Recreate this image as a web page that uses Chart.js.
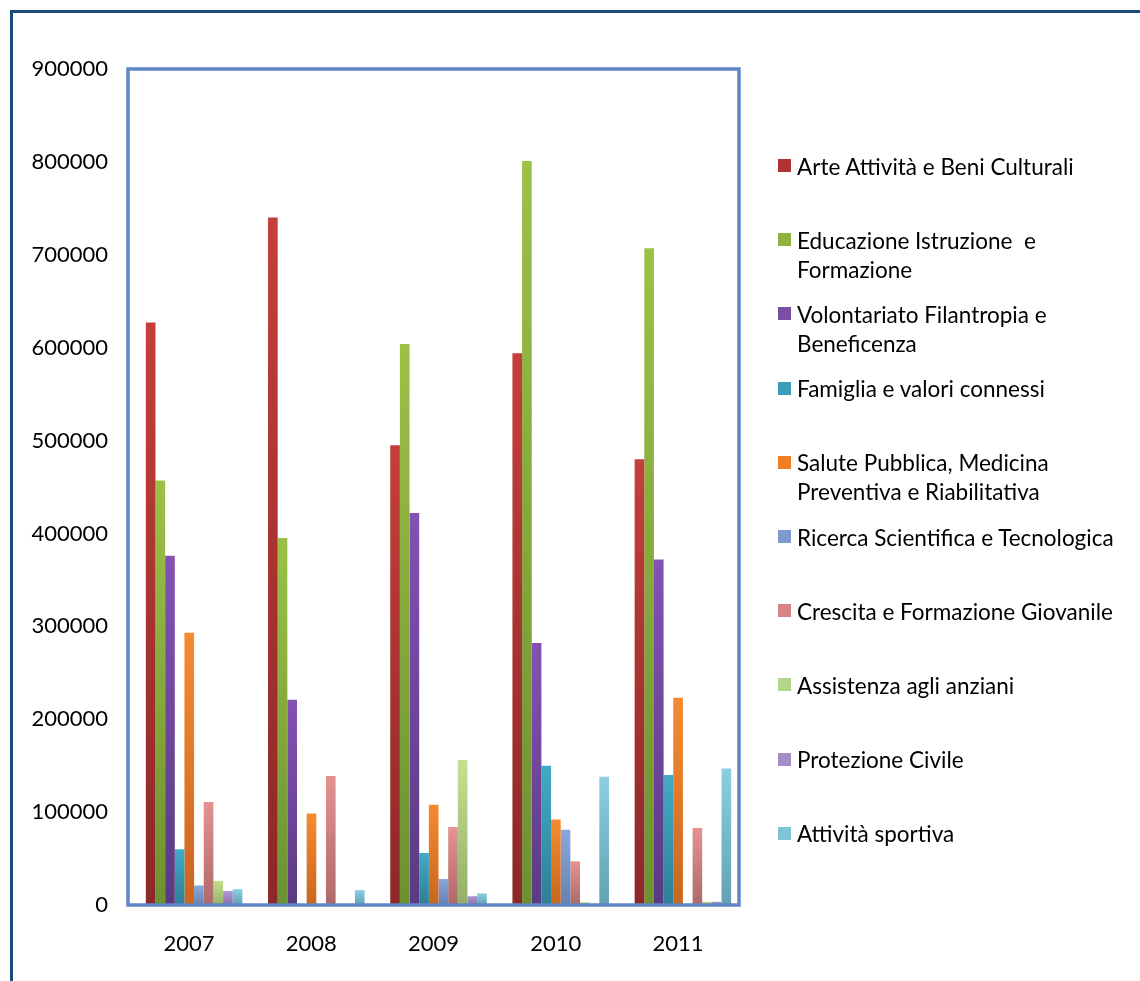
<!DOCTYPE html>
<html>
<head>
<meta charset="utf-8">
<script src="https://cdn.jsdelivr.net/npm/chart.js@4/dist/chart.umd.min.js"></script>
<style>
  html, body { margin: 0; padding: 0; background: #fff; overflow: hidden; }
  #wrap { position: relative; width: 1140px; height: 981px; }
  #frame { position: absolute; left: 10px; top: 10px; width: 1200px; height: 1100px; border: 3px solid #1b4b7a; }
  canvas { position: absolute; left: 0; top: 0; }
  .leg { position: absolute; left: 797px; font-family: Lato, sans-serif; font-size: 22.5px; line-height: 29px; color: #000; white-space: nowrap; }
  .sq { position: absolute; left: 778px; width: 13px; height: 13px; }
</style>
</head>
<body>
<div id="wrap">
  <div id="frame"></div>
  <canvas id="chart" width="1140" height="981"></canvas>
</div>
<script>
const years = ['2007', '2008', '2009', '2010', '2011'];

const arte = [627000, 740000, 495000, 594000, 480000];
const educazione = [457000, 395000, 604000, 801000, 707000];
const volontariato = [376000, 221000, 422000, 282000, 372000];
const famiglia = [60000, 0, 56000, 150000, 140000];
const salute = [293000, 98500, 108000, 92000, 223000];
const ricerca = [21000, 0, 28000, 81000, 0];
const crescita = [111000, 139000, 84000, 47000, 83000];
const anziani = [26000, 0, 156000, 3000, 3500];
const protezione = [15000, 0, 9500, 0, 3500];
const sportiva = [17000, 16000, 12500, 138000, 147000];

const seriesNames = [
  'Arte Attività e Beni Culturali',
  'Educazione Istruzione  e\nFormazione',
  'Volontariato Filantropia e\nBeneficenza',
  'Famiglia e valori connessi',
  'Salute Pubblica, Medicina\nPreventiva e Riabilitativa',
  'Ricerca Scientifica e Tecnologica',
  'Crescita e Formazione Giovanile',
  'Assistenza agli anziani',
  'Protezione Civile',
  'Attività sportiva'
];
const seriesValues = [arte, educazione, volontariato, famiglia, salute, ricerca, crescita, anziani, protezione, sportiva];

// top / bottom of each bar's gradient, plus legend swatch
const topColors = ['#c43f3a', '#9cc147', '#8352b3', '#43aac6', '#f68b30', '#8ba8de', '#e59292', '#c5e08e', '#b197d6', '#8bcee2'];
const bottomColors = ['#8c2828', '#6c9131', '#5a3a82', '#2d7f96', '#c9661f', '#6381b2', '#ad6a6a', '#93af68', '#8770a8', '#62a1b4'];
const swatchColors = ['#b03232', '#8db23f', '#7a4fa3', '#3a9eb8', '#ef7f22', '#7d9acf', '#d88484', '#b3d68a', '#a48cc4', '#7fc3d6'];

function barFill(i) {
  return function(ctx) {
    const chart = ctx.chart;
    const ys = chart.scales.y;
    if (ctx.type !== 'data' || !ys || !chart.chartArea) return topColors[i];
    const yTop = ys.getPixelForValue(ctx.raw);
    const yBot = ys.getPixelForValue(0);
    if (yBot - yTop < 1) return topColors[i];
    const g = chart.ctx.createLinearGradient(0, yTop, 0, yBot);
    g.addColorStop(0, topColors[i]);
    g.addColorStop(1, bottomColors[i]);
    return g;
  };
}

const datasets = seriesValues.map((vals, i) => ({
  label: seriesNames[i],
  data: vals,
  backgroundColor: barFill(i),
  borderWidth: 0,
  categoryPercentage: 0.79,
  barPercentage: 1.0
}));

// the groups in the original sit a few px right of the tick centre
const barNudge = {
  id: 'barNudge',
  beforeDatasetsDraw(chart) { chart.ctx.save(); chart.ctx.translate(5, 0); },
  afterDatasetsDraw(chart) { chart.ctx.restore(); }
};

// blue box round the plot area
const plotBorder = {
  id: 'plotBorder',
  afterDatasetsDraw(chart) {
    const { ctx, chartArea: a } = chart;
    ctx.save();
    ctx.strokeStyle = '#5f87c3';
    ctx.lineWidth = 3.5;
    ctx.strokeRect(a.left, a.top, a.right - a.left, a.bottom - a.top);
    ctx.restore();
  }
};

const tickFont = { family: 'Lato', size: 22 };

new Chart(document.getElementById('chart').getContext('2d'), {
  type: 'bar',
  data: { labels: years, datasets },
  options: {
    responsive: false,
    animation: false,
    layout: { padding: { left: 0, top: 69, right: 401, bottom: 0 } },
    plugins: {
      legend: { display: false },
      tooltip: { enabled: false }
    },
    scales: {
      x: {
        grid: { display: false, drawTicks: false },
        border: { display: false },
        ticks: { font: tickFont, color: '#000', padding: 26, maxRotation: 0 },
        afterFit: s => { s.height = 76; }
      },
      y: {
        min: 0,
        max: 900000,
        grid: { display: false, drawTicks: false },
        border: { display: false },
        ticks: { stepSize: 100000, font: tickFont, color: '#000', padding: 20, callback: v => String(v) },
        afterFit: s => { s.width = 128; }
      }
    }
  },
  plugins: [barNudge, plotBorder]
});

// legend on the right, one slot per series
const wrap = document.getElementById('wrap');
seriesNames.forEach((name, i) => {
  const mid = 166 + 74.2 * i;
  const sq = document.createElement('div');
  sq.className = 'sq';
  sq.style.top = (mid - 7) + 'px';
  sq.style.background = swatchColors[i];
  wrap.appendChild(sq);
  const t = document.createElement('div');
  t.className = 'leg';
  t.style.top = (mid - 14.5) + 'px';
  t.innerHTML = name.split('\n').map(s => s.replace(/  /g, ' &nbsp;')).join('<br>');
  wrap.appendChild(t);
});
</script>
</body>
</html>
